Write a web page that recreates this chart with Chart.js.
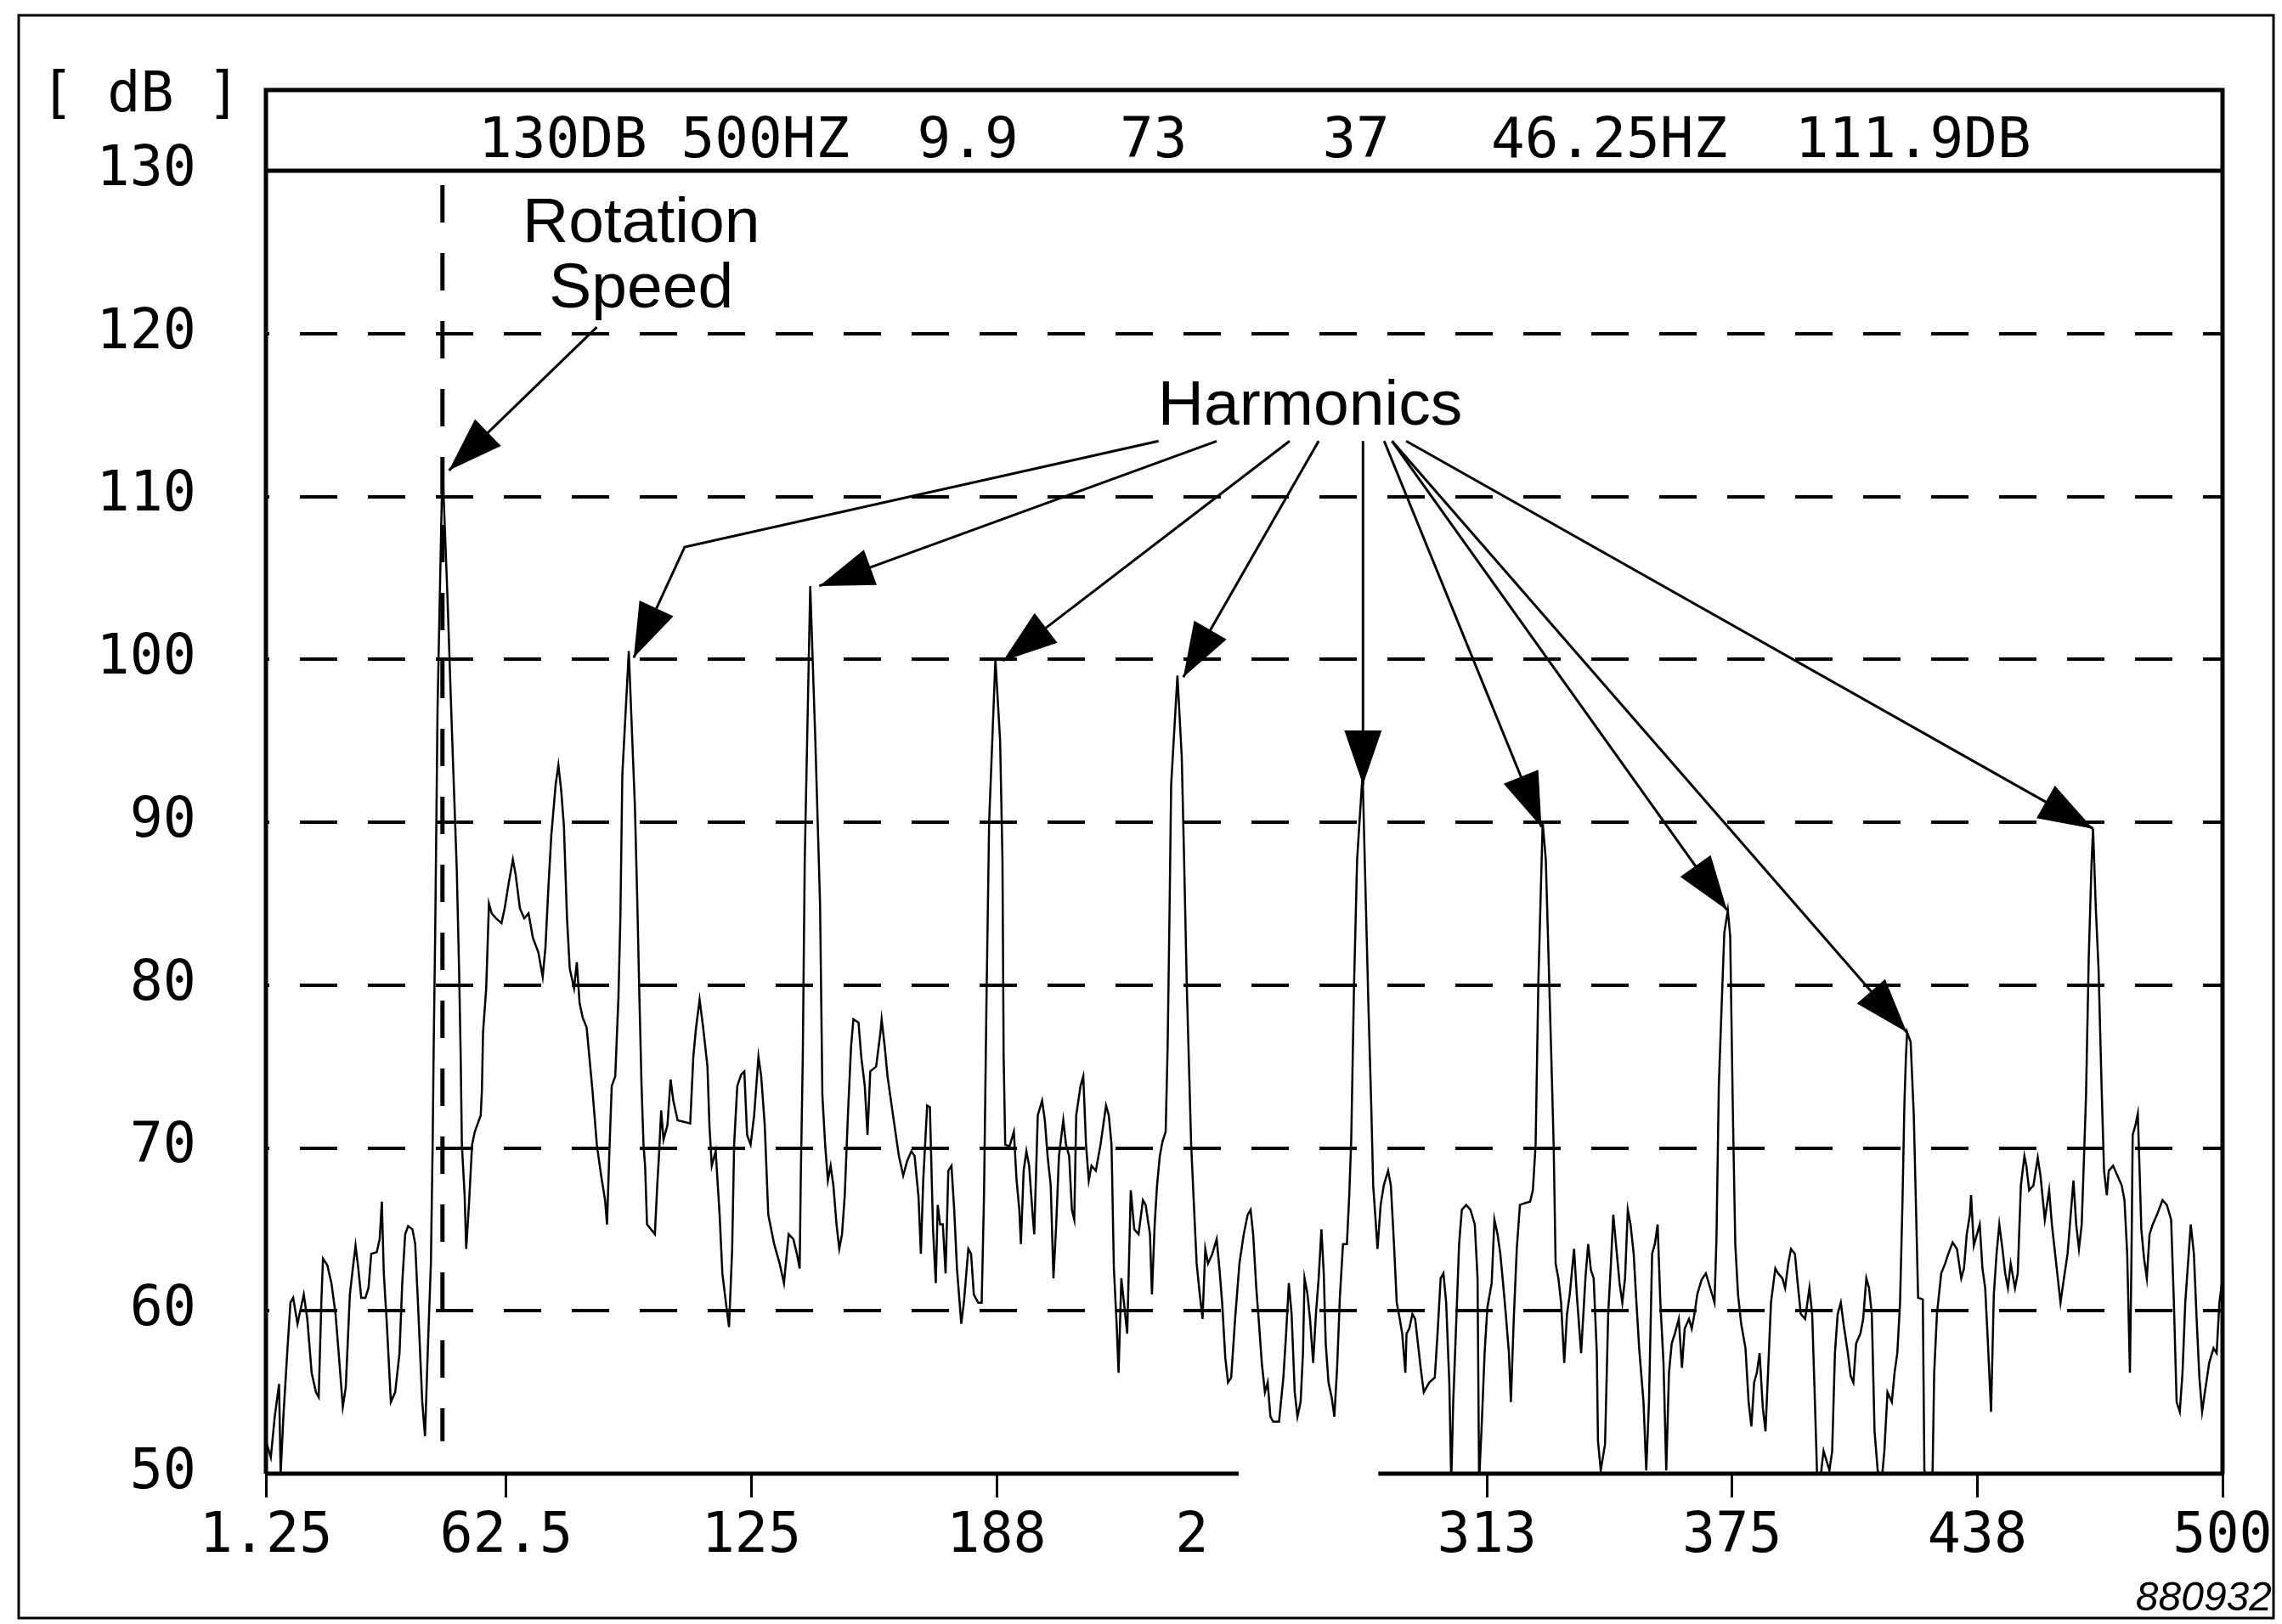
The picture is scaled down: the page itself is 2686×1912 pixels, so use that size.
<!DOCTYPE html>
<html><head><meta charset="utf-8">
<style>html,body{margin:0;padding:0;background:#fff;}#wrap{width:2686px;height:1912px;position:relative;}</style>
<script src="https://cdn.jsdelivr.net/npm/chart.js@4.4.1/dist/chart.umd.min.js"></script>
</head><body><div id="wrap"><canvas id="c" width="2686" height="1912"></canvas></div>
<script>
// ---- data ----
const freqHz = [
1.25,2.5,3.5,4.6,5.0,5.7,6.75,7.5,8.2,9.3,10.1,10.9,11.8,12.9,14.0,14.7,15.4,15.8,16.9,17.95,19.0,19.8,20.85,21.6,22.65,23.4,24.1,24.8,25.55,26.6,27.4,28.1,29.5,30.25,30.8,31.3,32.05,33.1,34.2,35.3,36.0,36.75,37.5,38.6,39.3,40.0,41.1,41.8,42.5,43.3,43.75,44.0,44.4,45.0,46.25,47.5,48.75,49.9,50.5,50.9,51.2,51.9,52.3,53.0,53.8,54.5,56.0,56.3,56.6,57.4,58.1,58.8,59.9,61.3,62.1,63.1,64.2,64.9,66.0,67.1,68.2,69.3,70.7,71.8,72.5,73.3,74.0,75.1,75.8,76.5,77.2,78.0,78.7,79.8,80.5,81.2,82.0,83.0,84.5,85.6,86.7,87.7,88.2,88.8,89.4,90.3,91.1,91.6,92.1,93.75,95.3,95.9,96.4,97.0,97.5,97.9,98.4,100.4,101.0,101.5,102.0,102.6,103.6,104.4,105.1,106.2,109.4,110.2,110.9,111.8,112.7,113.8,114.3,114.9,115.9,116.9,117.6,118.5,119.3,120.1,120.6,121.4,122.4,123.2,123.9,124.8,125.7,126.8,127.5,128.4,129.3,130.8,132.2,133.3,134.5,135.7,136.6,137.3,137.6,138.1,138.6,140.0,141.3,142.5,143.1,143.8,144.5,145.2,145.9,146.7,147.4,148.1,148.8,149.6,150.4,151.0,152.3,153.0,153.9,154.6,155.3,156.8,157.9,158.2,159.0,159.7,161.1,162.6,163.7,164.7,165.8,166.6,167.6,168.2,168.8,169.8,170.5,171.3,172.0,172.5,173.1,173.8,174.5,175.2,176.0,176.7,177.4,178.5,179.2,180.3,181.0,181.7,182.8,183.7,184.3,184.9,185.6,187.2,188.4,189.0,189.3,189.7,190.8,191.9,192.6,193.3,193.7,194.4,195.1,195.8,196.6,197.1,198.0,199.1,199.8,200.5,201.3,202.0,202.7,203.4,204.5,205.2,206.0,206.7,207.3,207.8,208.9,209.6,210.3,211.0,211.7,212.8,214.0,215.4,216.1,216.8,217.4,218.1,218.6,219.3,220.1,220.8,221.7,222.6,223.7,224.8,225.5,226.6,227.1,227.8,228.4,229.1,229.8,230.6,231.1,231.6,232.0,233.6,234.7,235.3,236.0,237.1,237.8,238.5,239.3,240.0,240.7,241.4,242.5,243.6,244.3,245.0,245.8,246.5,247.3,248.3,249.4,250.5,251.5,252.25,252.9,253.7,254.4,255.1,255.9,256.6,257.3,258.0,259.5,260.6,261.3,262.0,262.7,263.5,264.2,265.0,265.6,266.0,266.7,267.4,268.2,268.9,269.6,270.3,270.9,271.4,272.1,272.9,273.6,274.3,275.0,275.8,276.8,277.4,277.9,278.6,279.4,280.8,281.5,282.3,283.0,283.5,284.1,284.6,285.4,286.2,287.3,288.0,288.8,289.5,290.2,290.9,291.7,292.0,292.7,293.5,294.2,294.9,295.6,296.4,297.8,299.2,299.9,300.7,301.4,302.1,302.9,303.4,303.9,304.7,305.4,306.1,307.2,308.3,309.4,310.1,310.5,311.2,311.9,312.6,313.7,314.4,315.2,315.9,316.6,317.3,318.1,318.6,319.3,320.1,320.9,322.0,323.5,324.2,324.9,325.6,326.7,327.5,328.2,328.9,329.5,330.0,330.7,331.4,332.2,332.9,333.6,334.7,335.4,336.5,337.6,338.3,339.0,339.7,340.5,340.8,341.5,342.6,343.4,344.1,344.7,345.5,346.3,347.0,347.7,348.4,349.1,349.9,350.6,351.3,352.4,353.1,353.8,354.6,355.3,356.0,356.7,357.5,358.2,358.9,359.6,360.4,361.4,362.2,362.9,364.0,364.7,365.4,366.1,367.2,368.3,369.4,370.5,371.0,371.6,372.3,373.0,373.9,374.5,375.2,375.8,376.5,377.3,378.4,379.2,379.9,380.6,381.3,382.0,382.8,383.5,384.2,384.9,386.0,386.7,387.8,388.5,389.3,390.0,391.0,391.7,392.5,393.6,394.7,395.4,396.1,396.7,397.4,398.3,399.8,400.5,401.2,401.9,402.7,403.4,404.5,405.2,405.9,406.6,407.7,408.4,409.2,409.9,410.6,411.3,412.1,413.1,413.8,414.6,415.7,416.4,417.1,417.8,418.4,418.9,419.3,419.6,420.5,421.3,422.0,422.4,423.6,424.0,425.1,426.1,426.5,427.2,428.3,429.3,430.1,431.2,432.3,433.4,434.1,434.8,435.6,435.9,436.6,437.4,438.1,438.8,439.5,440.2,441.0,441.7,442.4,443.1,443.9,444.6,445.3,446.0,447.1,447.8,448.6,449.5,450.0,450.7,451.8,452.9,453.6,454.7,455.8,456.5,457.6,458.7,459.4,460.5,461.2,462.0,462.7,463.4,464.1,464.7,465.2,465.9,466.6,467.0,467.7,468.4,469.2,469.8,470.5,471.0,472.1,473.2,474.3,475.0,475.7,476.4,476.8,477.1,477.8,478.4,478.9,479.3,480.0,480.7,481.4,482.2,483.3,484.7,485.8,486.9,487.6,488.3,489.1,489.8,490.5,491.2,491.9,492.7,493.4,494.1,494.8,495.5,496.6,497.7,498.5,499.2,500.0
];
const levelDb = [
52,51,53.5,55.5,50,53.5,57.7,60.5,60.8,59.2,60.1,61,59.5,56.2,55,54.7,60.7,63.2,62.8,61.7,59.8,57.4,54.1,55.3,61,62.6,64,62.6,60.8,60.8,61.4,63.5,63.6,64.4,66.7,62.3,59.3,54.4,55,57.4,61.7,64.7,65.2,65,64.1,60.5,54.4,52.3,57.5,62.9,70.2,75.9,83.2,97,111.9,104,95,87.1,80.8,75.6,70.2,67.1,63.8,66.5,70.2,71,72,73.5,77.1,79.8,85,84.4,84.1,83.8,84.7,86.2,87.7,86.8,84.7,84.1,84.4,82.9,82,80.5,82.3,86.2,89.2,92.3,93.5,92,89.8,84.1,81,79.8,81.4,78.9,78,77.4,73.5,70.2,68.3,66.8,65.3,69.8,73.8,74.4,79.2,84.1,92.9,100.5,91,85.3,79.8,73.8,70.2,68.9,65.3,64.7,67.7,69.8,72.3,70.5,71.4,74.2,72.9,71.7,71.5,75.6,77.4,79.1,77.4,75,71.4,68.9,69.8,65.9,62.3,60.5,59,63.8,70.2,73.8,74.5,74.7,70.8,70.2,72,75.6,74.4,71.4,65.9,64.1,62.9,61.7,64.7,64.4,63.5,62.6,68.3,75.6,87.7,104.5,95,85,73.2,70.2,68,68.9,67.7,65.3,63.8,64.7,67.1,72,76.2,77.9,77.7,75.6,73.8,70.8,74.7,75,77.1,77.9,76.2,74.4,72,69.5,68.3,69.2,69.8,69.5,67,63.5,68,72.6,72.5,65,61.7,66.5,65.3,65.3,62.3,68.6,68.9,66.2,62.6,59.2,60.6,63.8,63.5,61,60.5,60.5,67.1,78.6,90,100,95,87.7,75.6,70.2,70.1,71,68,66.2,64.1,68.6,69.8,68.9,66.2,64.7,72,72.9,71.7,69.5,67.7,62,65.3,69.5,71.7,70.2,69.5,66.2,65.6,72,73.8,74.4,70.2,68,68.9,68.6,70.2,72.6,72,70.2,62.6,59.2,56.2,62,60.2,58.6,67.4,65,64.7,66.8,66.5,64.7,61,65.3,67.7,69.5,70.4,71,76.2,84.7,92.3,99,94,87.7,79.8,70.2,66.5,62.9,61,59.5,63.8,62.9,63.5,64.4,62.6,60.5,57.1,55.6,55.9,59.5,62.9,64.7,65.9,66.2,64.7,61.4,59.2,56.8,55,55.6,53.5,53.2,53.2,55.9,58.6,61.7,59.8,55,53.5,54.4,57.4,62,61.1,59.5,56.8,59.8,62,65,62.3,58,55.6,54.7,53.5,56.5,60.8,64.1,64.1,67.1,70.5,79.8,87.7,93,86.2,78.6,72.6,67.7,65.6,63.8,66.5,67.7,68.6,67.7,64.1,60.5,59.6,58.6,56.2,58.6,58.9,59.8,59.5,58,56.5,55,55.6,55.9,58.6,62,62.3,60.5,55.6,49.5,54.4,59.5,64.1,66.2,66.5,66.2,65.3,62,49.5,53.2,57.4,60.2,61.7,65.6,64.7,63.5,61.7,59.8,57.4,54.4,59.3,63.8,66.5,66.6,66.7,67.4,70.2,80.2,90,87.7,81.7,75.6,70.2,62.9,62,60.5,56.8,59.8,61,63.8,61,57.4,62,64.1,62.5,62,57.4,52,50.2,51.8,59.8,62.9,65.9,63.8,61.7,60.5,62,66.2,65.3,63.5,60.5,57.7,54.4,50.2,54.4,63.5,64.1,65.3,60.5,56.8,50.2,56.2,58,58.6,59.5,56.5,58.9,59.5,58.9,59.8,61,61.9,62.3,61.4,60.5,64.4,73.8,78.6,83.2,84.6,83,72,64.1,61,59.2,57.7,54.4,52.9,55.6,56.2,57.4,54.1,52.6,56.5,60.5,62.6,62.3,62,61.4,62.9,63.8,63.5,61.7,59.8,59.5,61.4,59.8,54.4,49.5,49.5,51.4,50.2,51.4,57.4,59.8,60.5,59.2,57.4,56,55.6,58,58.6,59.5,62,61.4,59.8,52.6,50.2,49.5,51.4,55,54.4,56.2,57.4,60.5,66.5,72.6,75.6,77.1,76.5,72,65,60.8,60.7,50.2,49.5,50.2,56.2,59.8,62.3,62.9,63.5,64.2,63.8,62,62.6,64.7,65.9,67.1,64,64.7,65.3,62.6,61.4,58,53.8,61,63.5,65.3,63.8,62.3,61.4,62.9,61.4,62.3,67.7,69.5,68.9,67.4,67.7,69.4,68.3,65.6,67.4,65.3,62.9,60.5,61.7,63.5,65.6,68,65.3,63.8,65.3,69.5,73.2,81.7,87.4,89.6,84.7,81,73.5,68.6,67.1,68.6,68.9,68.3,67.7,66.8,63.5,56.2,63.5,70.8,71.4,72.1,68.3,65,63.2,62,64.7,65.3,65.9,66.8,66.5,65.6,60.5,54.4,53.8,56.2,60.5,62.9,65.3,63.5,59.5,55.9,53.8,55,56.8,57.7,57.4,60.5,62
];
const xTickValues = [1.25, 62.5, 125, 187.5, 250, 312.5, 375, 437.5, 500];
const xTickLabels = ['1.25', '62.5', '125', '188', '2   ', '313', '375', '438', '500'];
const yTickValues = [50, 60, 70, 80, 90, 100, 110, 120, 130];
const yTickLabels = ['50', '60', '70', '80', '90', '100', '110', '120', '130'];
const headerText = '130DB 500HZ  9.9   73    37   46.25HZ  111.9DB';
const unitLabel = '[ dB ]';
const figureId = '880932';
const cursorHz = 46.25;
const rotationLabel = ['Rotation', 'Speed'];
const harmonicsLabel = 'Harmonics';
// annotation anchors (value space: Hz, dB)
const rotationArrowFrom = [85.6, 120.4];
const rotationArrowTip = [47.9, 111.6];
const harmonicArrowFromHz = [228.8, 243.6, 262.2, 269.6, 280.9, 286.3, 288.3, 288.3, 291.9];
const harmonicArrowFromDb = [113.4, 113.4, 113.4, 113.4, 113.4, 113.4, 113.4, 113.4, 113.4];
const harmonicArrowTipHz = [95.0, 142.3, 189.1, 235.1, 280.9, 326.4, 373.7, 419.5, 467.0];
const harmonicArrowTipDb = [100.1, 104.5, 99.9, 98.9, 92.3, 89.7, 84.6, 77.1, 89.6];
const harmonicArrowBend = [[108, 106.9], null, null, null, null, null, null, null, null];
const axisGapHz = [249.2, 284.8];

// ---- drawing ----
const MONO = '"DejaVu Sans Mono", "Liberation Mono", monospace';
const SANS = '"Liberation Sans", Arial, sans-serif';
const points = freqHz.map((f, i) => ({ x: f, y: levelDb[i] }));

function arrow(ctx, pts, headLen, headHalf) {
  ctx.beginPath();
  ctx.moveTo(pts[0][0], pts[0][1]);
  for (let i = 1; i < pts.length; i++) ctx.lineTo(pts[i][0], pts[i][1]);
  ctx.stroke();
  const a = pts[pts.length - 2], b = pts[pts.length - 1];
  const ang = Math.atan2(b[1] - a[1], b[0] - a[0]);
  const bx = b[0] - headLen * Math.cos(ang), by = b[1] - headLen * Math.sin(ang);
  ctx.beginPath();
  ctx.moveTo(b[0], b[1]);
  ctx.lineTo(bx + headHalf * Math.sin(ang), by - headHalf * Math.cos(ang));
  ctx.lineTo(bx - headHalf * Math.sin(ang), by + headHalf * Math.cos(ang));
  ctx.closePath();
  ctx.fill();
}

const framePlugin = {
  id: 'frame',
  afterDatasetsDraw(chart) {
    const { ctx, chartArea: ca, scales: { x, y } } = chart;
    const px = v => x.getPixelForValue(v), py = v => y.getPixelForValue(v);
    const headTop = ca.top - 95;
    ctx.save();
    ctx.strokeStyle = '#000'; ctx.fillStyle = '#000'; ctx.lineCap = 'butt';
    // plot frame + header box
    ctx.lineWidth = 5;
    ctx.beginPath();
    ctx.moveTo(ca.left, ca.bottom); ctx.lineTo(ca.left, headTop); ctx.lineTo(ca.right, headTop); ctx.lineTo(ca.right, ca.bottom);
    ctx.moveTo(ca.left, ca.top); ctx.lineTo(ca.right, ca.top);
    ctx.moveTo(ca.left, ca.bottom); ctx.lineTo(px(axisGapHz[0]), ca.bottom);
    ctx.moveTo(px(axisGapHz[1]), ca.bottom); ctx.lineTo(ca.right, ca.bottom);
    ctx.stroke();
    // header text
    ctx.font = '66px ' + MONO; ctx.textAlign = 'left'; ctx.textBaseline = 'alphabetic';
    ctx.fillText(headerText, ca.left + 250, headTop + 79);
    // unit label
    ctx.font = '65px ' + MONO;
    ctx.fillText(unitLabel, 48, headTop + 25);
    // cursor line
    ctx.lineWidth = 5; ctx.setLineDash([44, 36]); ctx.lineDashOffset = 63;
    ctx.beginPath(); ctx.moveTo(px(cursorHz), ca.top); ctx.lineTo(px(cursorHz), py(52)); ctx.stroke();
    ctx.setLineDash([]);
    // annotation labels
    ctx.font = '75px ' + SANS; ctx.textAlign = 'center';
    ctx.fillText(rotationLabel[0], px(96.9), py(125.6));
    ctx.fillText(rotationLabel[1], px(96.9), py(121.6));
    ctx.fillText(harmonicsLabel, px(267.4), py(114.4));
    // arrows
    ctx.lineWidth = 3;
    arrow(ctx, [[px(rotationArrowFrom[0]), py(rotationArrowFrom[1])], [px(rotationArrowTip[0]), py(rotationArrowTip[1])]], 64, 22);
    for (let i = 0; i < harmonicArrowTipHz.length; i++) {
      const pts = [[px(harmonicArrowFromHz[i]), py(harmonicArrowFromDb[i])]];
      if (harmonicArrowBend[i]) pts.push([px(harmonicArrowBend[i][0]), py(harmonicArrowBend[i][1])]);
      pts.push([px(harmonicArrowTipHz[i]), py(harmonicArrowTipDb[i])]);
      arrow(ctx, pts, 64, 22);
    }
    // outer frame
    ctx.lineWidth = 3;
    ctx.strokeRect(22, 18, 2676 - 22, 1905 - 18);
    // figure id
    ctx.font = 'italic 48px ' + SANS; ctx.textAlign = 'right';
    ctx.fillText(figureId, 2674, 1896);
    ctx.restore();
  }
};

new Chart(document.getElementById('c'), {
  type: 'line',
  data: { datasets: [{ data: points, borderColor: '#000', borderWidth: 2.5, pointRadius: 0, tension: 0, fill: false }] },
  options: {
    responsive: false, animation: false, devicePixelRatio: 1,
    layout: { padding: { left: 0, right: 70, top: 201, bottom: 0 } },
    plugins: { legend: { display: false }, tooltip: { enabled: false } },
    scales: {
      x: {
        type: 'linear', min: 1.25, max: 500,
        afterBuildTicks: s => { s.ticks = xTickValues.map(v => ({ value: v })); },
        afterFit: s => { s.height = 177; },
        ticks: { autoSkip: false, maxRotation: 0, minRotation: 0, padding: 8, color: '#000',
                 font: { family: MONO, size: 65 }, callback: (v, i) => xTickLabels[i] },
        grid: { drawOnChartArea: false, drawTicks: true, tickLength: 28, tickWidth: 3,
                tickColor: c => (c.index === 4 ? 'rgba(0,0,0,0)' : '#000') },
        border: { display: false }
      },
      y: {
        min: 50, max: 130,
        afterBuildTicks: s => { s.ticks = yTickValues.map(v => ({ value: v })); },
        afterFit: s => { s.width = 313; },
        ticks: { padding: 82, color: '#000', font: { family: MONO, size: 65 }, callback: (v, i) => yTickLabels[i] },
        grid: { drawTicks: false, tickLength: 0, lineWidth: 4,
                color: c => (c.tick && (c.tick.value === 50 || c.tick.value === 130) ? 'rgba(0,0,0,0)' : '#000') },
        border: { display: false, dash: [44, 36], dashOffset: 40 }
      }
    }
  },
  plugins: [framePlugin]
});
</script></body></html>
